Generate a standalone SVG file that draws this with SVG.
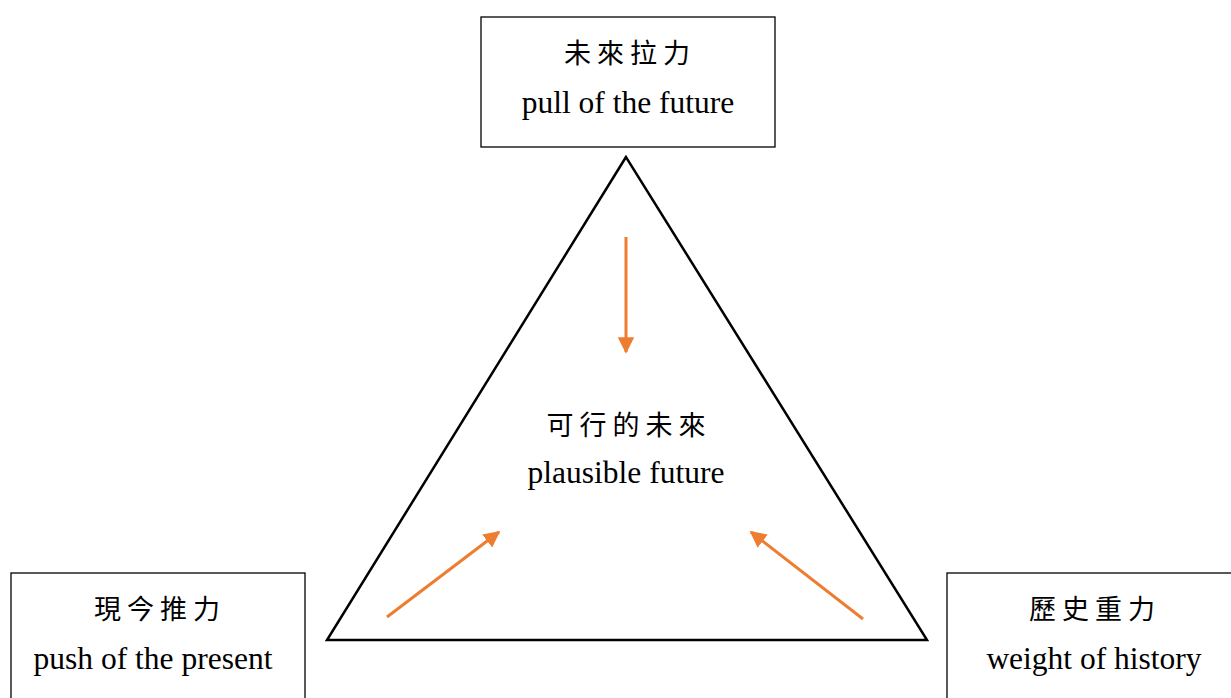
<svg xmlns="http://www.w3.org/2000/svg" width="1231" height="698" viewBox="0 0 1231 698">
<style>
.box{fill:#fff;stroke:#000;stroke-width:1.3}
.zh{font-family:"Noto Sans CJK TC","Noto Sans CJK SC",sans-serif;font-size:27px;letter-spacing:6px;fill:#000;text-anchor:middle}
.en{font-family:"Liberation Serif","Times New Roman",serif;font-size:31.5px;fill:#000;text-anchor:middle}
.arr{stroke:#ED7D31;stroke-width:3;fill:none;marker-end:url(#ah)}
</style>
<defs>
<marker id="ah" viewBox="0 0 10 10" refX="9" refY="5" markerWidth="5.5" markerHeight="5.5" orient="auto" markerUnits="strokeWidth">
<path d="M0,0 L10,5 L0,10 Z" fill="#ED7D31"/>
</marker>
</defs>
<g id="triangle">
<polygon points="626,157 327,640 927,640" fill="none" stroke="#000" stroke-width="2.5"/>
<text class="zh" x="629" y="435">可行的未來</text>
<text class="en" x="626" y="483">plausible future</text>
</g>
<g id="future">
<rect class="box" x="481" y="17" width="294" height="130"/>
<text class="zh" x="630" y="63">未來拉力</text>
<text class="en" x="628" y="113">pull of the future</text>
</g>
<g id="present">
<rect class="box" x="11" y="573" width="294" height="130"/>
<text class="zh" x="160" y="619">現今推力</text>
<text class="en" x="153" y="669">push of the present</text>
</g>
<g id="history">
<rect class="box" x="947" y="573" width="294" height="130"/>
<text class="zh" x="1095" y="619">歷史重力</text>
<text class="en" x="1094" y="669">weight of history</text>
</g>
<g id="connectors">
<line class="arr" x1="626" y1="237" x2="626" y2="352"/>
<line class="arr" x1="387" y1="617" x2="499" y2="532"/>
<line class="arr" x1="863" y1="619" x2="751" y2="532"/>
</g>
</svg>
